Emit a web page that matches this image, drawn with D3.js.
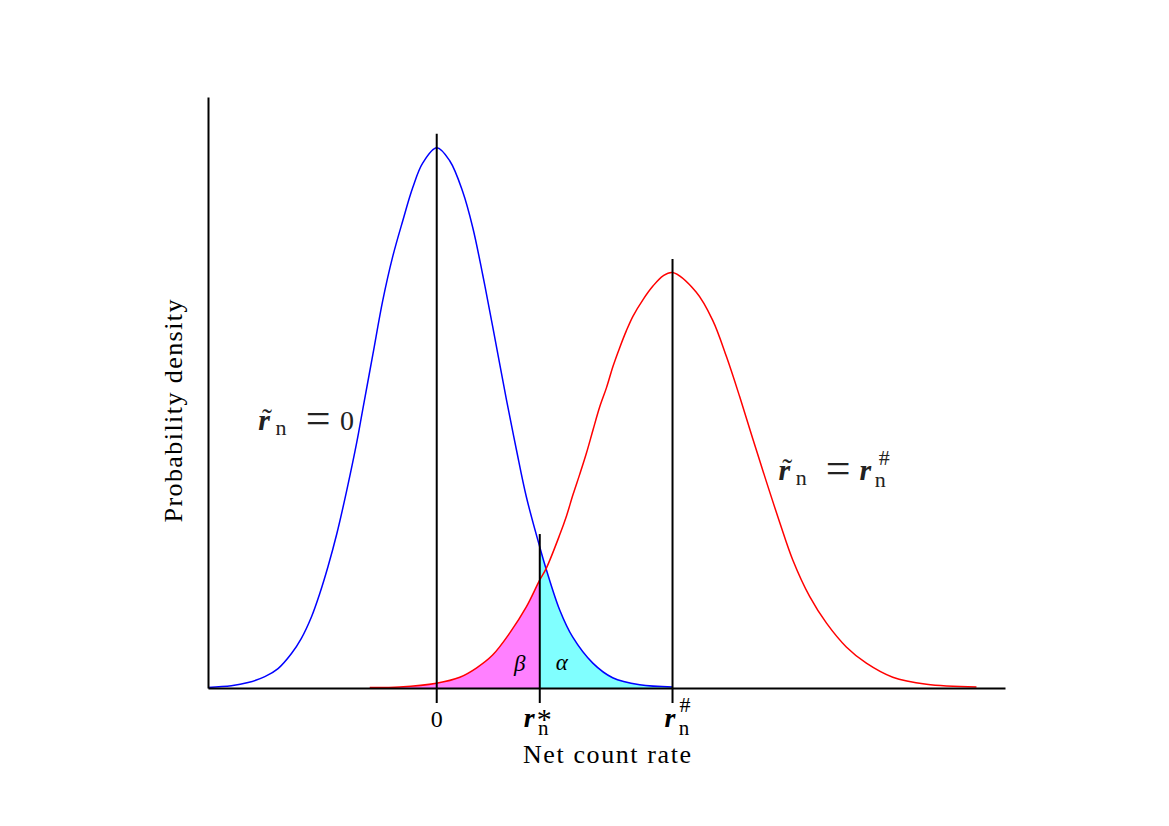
<!DOCTYPE html>
<html>
<head>
<meta charset="utf-8">
<script src="https://cdn.jsdelivr.net/npm/d3@7/dist/d3.min.js"></script>
<style>
body{margin:0;background:#ffffff;}
text{font-family:"Liberation Serif","Times New Roman",serif;}
</style>
</head>
<body>
<svg id="densitygraph"></svg>
<script>
// density of the net count rate
// blue = true value 0, red = true value r#
var blueX = [-9.70,-8.71,-8.00,-7.29,-6.73,-6.16,-5.74,-5.31,-4.96,-4.61,-4.24,-3.82,-3.39,-3.14,-2.71,-2.29,-1.87,-1.44,-1.02,-0.59,0,
             0.55,1.10,1.53,1.95,2.37,2.96,3.38,3.80,4.37,4.65,5.22,5.77,6.62,7.46,8.61,10.0]
var blueY = [0.001,0.004,0.010,0.021,0.036,0.064,0.092,0.132,0.175,0.225,0.285,0.365,0.455,0.515,0.617,0.717,0.798,0.865,0.926,0.972,1.0,
             0.976,0.919,0.852,0.765,0.670,0.533,0.441,0.354,0.261,0.219,0.144,0.094,0.046,0.019,0.006,0.002]
var redX = [-2.84,-1.57,-0.01,0.98,1.68,2.37,3.10,3.80,4.37,4.65,5.22,5.50,5.78,6.06,6.35,6.63,6.91,7.20,7.48,7.76,8.04,8.32,8.75,9.17,9.60,10.0,
            11.0,11.7,12.29,12.85,13.40,13.98,14.55,15.10,15.82,16.53,17.37,18.22,19.34,20.77,22.89]
var redY = [0.001,0.002,0.009,0.020,0.037,0.061,0.102,0.150,0.200,0.222,0.284,0.318,0.358,0.395,0.435,0.478,0.520,0.556,0.596,0.630,0.661,0.688,0.719,0.744,0.763,0.769,
            0.733,0.681,0.613,0.539,0.462,0.382,0.306,0.237,0.169,0.120,0.076,0.046,0.020,0.007,0.002]

var markX = [0, 4.37, 10.0]          // 0, r*n, r#n
var markTop = [1.026, 0.285, 0.794]  // where the vertical lines stop
var markSup = ["", "*", "#"]
var xDomain = [-9.7, 24.1]
var yDomain = [0, 1.094]

var screen = {width:1169, height:826}
var margins = {top:97, bottom:138, left:208, right:164}
var graph = {
    width:screen.width-margins.left-margins.right,
    height:screen.height-margins.top-margins.bottom
}

var svg = d3.select("#densitygraph")
    .attr("width", screen.width)
    .attr("height", screen.height)

var xScale = d3.scaleLinear().domain(xDomain).range([0, graph.width])
var yScale = d3.scaleLinear().domain(yDomain).range([graph.height, 0])

var blue = blueX.map(function(x,i){return {x:x, y:blueY[i]}})
var red = redX.map(function(x,i){return {x:x, y:redY[i]}})

var g = svg.append("g")
    .classed("graph", true)
    .attr("transform", "translate("+margins.left+","+margins.top+")")

// clip areas left / right of r*n
var defs = svg.append("defs")
defs.append("clipPath").attr("id","leftclip")
    .append("rect")
    .attr("x", 0).attr("y", 0)
    .attr("width", xScale(markX[1]))
    .attr("height", graph.height)
defs.append("clipPath").attr("id","rightclip")
    .append("rect")
    .attr("x", xScale(markX[1])).attr("y", 0)
    .attr("width", graph.width-xScale(markX[1]))
    .attr("height", graph.height)

var curve = d3.curveCatmullRom.alpha(0.5)
var areaGen = d3.area()
    .x(function(d){return xScale(d.x)})
    .y0(yScale(0))
    .y1(function(d){return yScale(d.y)})
    .curve(curve)
var lineGen = d3.line()
    .x(function(d){return xScale(d.x)})
    .y(function(d){return yScale(d.y)})
    .curve(curve)

g.append("path").datum(red)
    .attr("d", areaGen)
    .attr("fill", "#ff80ff")
    .attr("clip-path", "url(#leftclip)")
g.append("path").datum(blue)
    .attr("d", areaGen)
    .attr("fill", "#80ffff")
    .attr("clip-path", "url(#rightclip)")

g.append("path").datum(blue)
    .attr("d", lineGen)
    .attr("fill", "none")
    .attr("stroke", "#0000ff")
    .attr("stroke-width", 1.5)
g.append("path").datum(red)
    .attr("d", lineGen)
    .attr("fill", "none")
    .attr("stroke", "#ff0000")
    .attr("stroke-width", 1.5)

// vertical marks, running a little below the axis
g.selectAll(".mark")
    .data(markX)
    .enter()
    .append("line")
    .classed("mark", true)
    .attr("x1", function(d){return xScale(d)})
    .attr("x2", function(d){return xScale(d)})
    .attr("y1", function(d,i){return yScale(markTop[i])})
    .attr("y2", graph.height+15)
    .attr("stroke", "black")
    .attr("stroke-width", 2)

// axes, no ticks
var xAxis = d3.axisBottom(xScale).tickValues([]).tickSizeOuter(0)
var yAxis = d3.axisLeft(yScale).tickValues([]).tickSizeOuter(0)
var axes = g.append("g")
axes.append("g")
    .attr("transform","translate(0,"+graph.height+")")
    .call(xAxis)
axes.append("g")
    .call(yAxis)
axes.selectAll(".domain").attr("stroke","black").attr("stroke-width",2)

// tick labels
var tickLabels = g.append("g").classed("ticklabels", true)
tickLabels.append("text")
    .text("0")
    .attr("x", xScale(markX[0]))
    .attr("y", graph.height+39)
    .attr("text-anchor","middle")
    .attr("font-size", 24)
var tickShift = [0, -2.5, 5.5]
markX.forEach(function(m,i){
    if(i==0) return;
    var lab = tickLabels.append("g")
        .attr("transform","translate("+(xScale(m)+tickShift[i])+","+(graph.height+39)+")")
        .append("text")
        .attr("text-anchor","middle")
    lab.append("tspan").text("r")
        .attr("x",-8).attr("y",0)
        .attr("font-size",28).attr("font-style","italic").attr("font-weight","bold")
    lab.append("tspan").text("n")
        .attr("x",6).attr("y",8)
        .attr("font-size",21)
    lab.append("tspan").text(markSup[i])
        .attr("x",7).attr("y", markSup[i]=="*" ? 2 : -15)
        .attr("font-size", markSup[i]=="*" ? 30 : 22)
})

// greek letters inside the shaded tails
g.append("text").text("β")
    .attr("x", xScale(markX[1])-20)
    .attr("y", graph.height-17)
    .attr("text-anchor","middle")
    .attr("font-size",23).attr("font-style","italic")
g.append("text").text("α")
    .attr("x", xScale(markX[1])+22)
    .attr("y", graph.height-18)
    .attr("text-anchor","middle")
    .attr("font-size",23).attr("font-style","italic")

// curve labels  r~n = 0  and  r~n = r#n
var mathLabel = function(x, y, rhs)
{
    var lab = g.append("g")
        .attr("transform","translate("+xScale(x)+","+yScale(y)+")")
        .append("text")
        .attr("text-anchor","middle")
        .attr("fill","#222222")
    lab.append("tspan").text("r")
        .attr("x",0).attr("y",0)
        .attr("font-size",30).attr("font-style","italic").attr("font-weight","bold")
    lab.append("tspan").text("\u02DC")
        .attr("x",3).attr("y",-1)
        .attr("font-size",30)
    lab.append("tspan").text("n")
        .attr("x",17).attr("y",5)
        .attr("font-size",22)
    lab.append("tspan").text("=")
        .attr("x",54).attr("y",3)
        .attr("font-size",44)
    if(rhs=="0")
    {
        lab.append("tspan").text("0")
            .attr("x",83).attr("y",0)
            .attr("font-size",28)
    }
    else
    {
        lab.append("tspan").text("r")
            .attr("x",81).attr("y",0)
            .attr("font-size",30).attr("font-style","italic").attr("font-weight","bold")
        lab.append("tspan").text("n")
            .attr("x",96).attr("y",7)
            .attr("font-size",22)
        lab.append("tspan").text("#")
            .attr("x",100).attr("y",-15)
            .attr("font-size",22)
    }
}
mathLabel(-7.32, 0.478, "0")
mathLabel(14.74, 0.385, "r")

// axis titles
svg.append("text")
    .text("Net count rate")
    .attr("x", 607)
    .attr("y", margins.top+graph.height+75)
    .attr("text-anchor","middle")
    .attr("font-size",26)
    .attr("textLength",168)
svg.append("g")
    .attr("transform","translate(182,411)")
    .append("text")
    .text("Probability density")
    .attr("transform","rotate(270)")
    .attr("text-anchor","middle")
    .attr("font-size",26)
    .attr("textLength",223)
</script>
</body>
</html>
